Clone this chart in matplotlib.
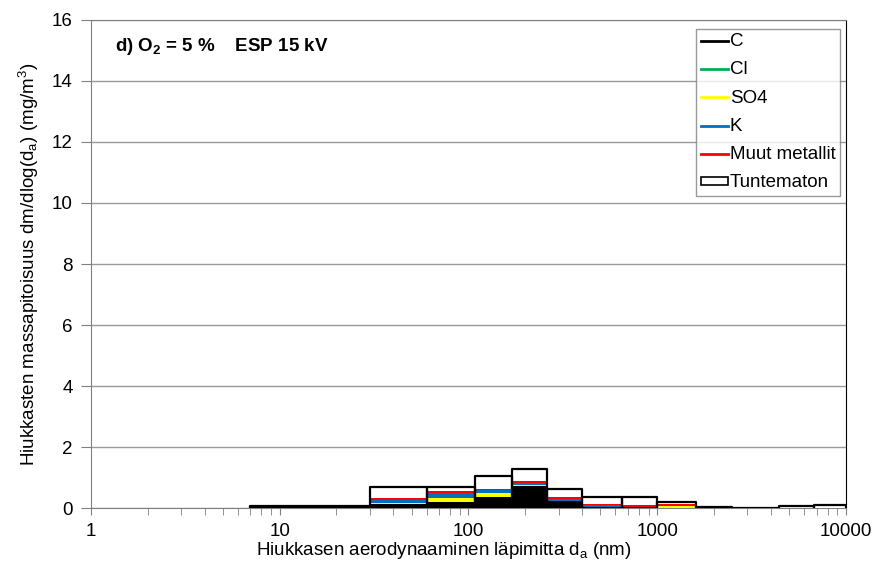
import numpy as np
import matplotlib
matplotlib.use('Agg')
import matplotlib.pyplot as plt
from matplotlib.lines import Line2D
from matplotlib.patches import Patch

plt.rcParams['font.family'] = ['Liberation Sans', 'DejaVu Sans']
plt.rcParams['mathtext.fontset'] = 'custom'
plt.rcParams['mathtext.rm'] = 'Liberation Sans'
plt.rcParams['mathtext.it'] = 'Liberation Sans:italic'
plt.rcParams['mathtext.bf'] = 'Liberation Sans:bold'

# impactor stage boundaries (nm)
edges = [7, 16, 30, 60, 108, 170, 260, 400, 650, 1000, 1600, 2500, 4400, 6800, 10000]

# stacked components per stage, mg/m3
c_vals   = [0.06, 0.06, 0.12, 0.21, 0.37, 0.72, 0.22, 0.03, 0.03, 0.02, 0.03, 0.01, 0.01, 0.01]
cl_vals  = [0.00, 0.00, 0.01, 0.00, 0.00, 0.01, 0.00, 0.00, 0.00, 0.00, 0.00, 0.00, 0.00, 0.00]
so4_vals = [0.00, 0.00, 0.05, 0.13, 0.11, 0.04, 0.02, 0.01, 0.00, 0.04, 0.00, 0.00, 0.00, 0.00]
k_vals   = [0.00, 0.00, 0.10, 0.14, 0.11, 0.05, 0.06, 0.05, 0.02, 0.01, 0.00, 0.00, 0.00, 0.00]
met_vals = [0.00, 0.00, 0.06, 0.08, 0.04, 0.06, 0.05, 0.06, 0.06, 0.05, 0.00, 0.00, 0.00, 0.00]
unk_vals = [0.00, 0.00, 0.36, 0.14, 0.43, 0.39, 0.27, 0.22, 0.26, 0.08, 0.01, 0.00, 0.06, 0.10]

names = ['C', 'Cl', 'SO4', 'K', 'Muut metallit', 'Tuntematon']
cols = ['#000000', '#00B050', '#FFFF00', '#0070C0', '#FF0000', '#FFFFFF']

FS = 13.5

fig = plt.figure(figsize=(8.91, 5.69), dpi=100)
ax = fig.add_axes([0.102, 0.107, 0.8475, 0.858])

left = np.array(edges[:-1], dtype=float)
width = np.diff(edges)
bottom = np.zeros(len(left))
series = [c_vals, cl_vals, so4_vals, k_vals, met_vals, unk_vals]
for vals, col in zip(series, cols):
    v = np.array(vals)
    ax.bar(left, v, width=width, bottom=bottom, align='edge', color=col,
           edgecolor='none', linewidth=0, zorder=3)
    bottom = bottom + v
# outline the total of each stage
for l, w, t in zip(left, width, bottom):
    ax.plot([l, l, l + w, l + w], [0, t, t, 0], color='black', lw=1.6, zorder=4)

ax.set_xscale('log')
ax.set_xlim(1, 10000)
ax.set_ylim(0, 16)
ax.set_yticks(range(0, 17, 2))
ax.set_xticks([1, 10, 100, 1000, 10000])
ax.set_xticklabels(['1', '10', '100', '1000', '10000'])
ax.grid(axis='y', color='#9a9a9a', lw=1, zorder=0)
ax.tick_params(axis='both', which='both', direction='out', labelsize=FS,
               color='#808080', length=5)
ax.tick_params(axis='x', which='both', pad=6)
ax.tick_params(axis='y', length=7, pad=6)
for s in ['left', 'bottom', 'top']:
    ax.spines[s].set_color('#808080')
ax.spines['right'].set_color('black')

ax.set_xlabel('Hiukkasen aerodynaaminen läpimitta d$_\\mathregular{a}$ (nm)', fontsize=FS)
ax.xaxis.set_label_coords(0.468, -0.065)
ax.set_ylabel('Hiukkasten massapitoisuus dm/dlog(d$_\\mathregular{a}$) (mg/m$^\\mathregular{3}$)',
              fontsize=FS, labelpad=8)

ax.text(0.032, 0.945, 'd) O$_\\mathbf{2}$ = 5 %    ESP 15 kV', transform=ax.transAxes,
        fontsize=FS, fontweight='bold', va='center', ha='left')

handles = [Line2D([0], [0], color=c, lw=2) for c in cols[:5]]
handles.append(Patch(facecolor='white', edgecolor='black', linewidth=1.2))
leg = ax.legend(handles, names, loc='upper right', bbox_to_anchor=(0.9975, 0.99),
                fontsize=FS, frameon=True, fancybox=False, edgecolor='#808080',
                handlelength=1.45, handleheight=0.3, handletextpad=0.1,
                labelspacing=0.6, borderpad=0.25, borderaxespad=0.2)
leg.get_frame().set_linewidth(1.0)
leg.set_zorder(5)

fig.savefig('out.png', dpi=100)
